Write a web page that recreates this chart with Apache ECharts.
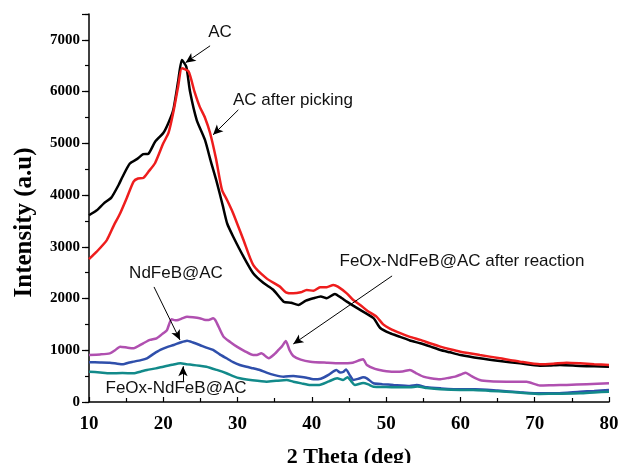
<!DOCTYPE html>
<html>
<head>
<meta charset="utf-8">
<script src="https://cdn.jsdelivr.net/npm/echarts@6/dist/echarts.min.js"></script>
<style>
  html, body { margin: 0; padding: 0; background: #fff; }
  #main { width: 619px; height: 463px; }
</style>
</head>
<body>
<div id="main"></div>
<script>
// 2 theta (deg), intensity (a.u)
var acData = [[10,3610],[11,3700],[12,3840],[13,3950],[14,4200],[14.5,4350],[15.5,4610],[16.5,4700],[17.3,4790],[18,4800],[18.9,5030],[20,5200],[20.7,5400],[21.35,5650],[22,6200],[22.5,6610],[23.1,6480],[23.6,6000],[24.5,5450],[25.6,5070],[26.4,4650],[27.2,4250],[28,3800],[28.6,3450],[29.4,3200],[30.8,2810],[32.1,2490],[33.5,2300],[34.8,2170],[36.2,1940],[37.2,1920],[38.2,1876],[39.2,1960],[40.2,2005],[41.2,2040],[42,2005],[43.1,2090],[44,2010],[44.7,1940],[46.5,1780],[48.3,1620],[49.2,1430],[50.5,1330],[51.9,1260],[53.2,1190],[54.6,1135],[56,1070],[57.3,1006],[58.6,960],[60,909],[62.6,845],[65.3,793],[68,748],[70.7,702],[72,705],[73.4,716],[76.1,696],[78,690],[80,683]];
var acPickData = [[10,2760],[11,2900],[12.4,3130],[13.3,3400],[14.2,3650],[15.1,3950],[16,4260],[16.6,4320],[17.3,4330],[18,4450],[18.9,4620],[20,5000],[20.7,5200],[21.35,5600],[22,6100],[22.5,6450],[23.4,6390],[24.2,6000],[24.9,5710],[25.6,5500],[26.3,5200],[27.1,4700],[27.9,4100],[28.6,3900],[29.4,3650],[30.8,3130],[32.1,2650],[33.9,2390],[35.7,2230],[36.5,2120],[37.5,2100],[38.5,2120],[39.3,2166],[40.2,2150],[41.1,2218],[42,2220],[42.9,2263],[43.5,2230],[44.7,2100],[45.5,1980],[46.5,1876],[47.5,1760],[48.7,1650],[49.6,1500],[50.5,1420],[51.9,1330],[53.2,1260],[54.6,1200],[56,1130],[57.3,1070],[58.6,1020],[60,973],[62.6,909],[65.3,845],[68,780],[70.7,729],[72.5,740],[74.3,760],[76.1,748],[78,730],[80,716]];
var reactedData = [[10,910],[11.5,920],[12.8,940],[13.5,1000],[14.2,1070],[15.2,1050],[16,1040],[17.3,1135],[18.2,1200],[19.1,1232],[20,1330],[20.5,1390],[21.1,1600],[21.6,1580],[22,1586],[22.6,1620],[23.2,1650],[24,1640],[24.9,1620],[25.5,1590],[26.1,1586],[26.7,1620],[27.1,1560],[28.1,1263],[29,1160],[29.9,1070],[31,980],[32.1,909],[32.6,910],[33.2,941],[34.2,845],[35,930],[35.5,1006],[36,1080],[36.5,1180],[37,1000],[37.5,890],[38.5,820],[39.8,780],[42,760],[43.8,748],[45.5,760],[46.5,812],[46.9,826],[47.4,716],[48.5,640],[49.6,606],[51,586],[52.2,590],[53.2,619],[54,560],[55,490],[56,460],[57.3,440],[58.5,470],[59.3,490],[60.2,540],[60.7,567],[61.5,500],[62.6,425],[64,400],[66.2,393],[68.9,393],[70.7,320],[72.5,325],[74.3,329],[77,345],[80,362]];
var ndfebData = [[10,768],[11.5,765],[12.8,760],[13.8,740],[14.6,729],[15.3,760],[16,780],[17,810],[17.8,845],[18.7,930],[19.6,1006],[20.5,1060],[21.4,1102],[22.3,1150],[23.2,1186],[24,1150],[24.9,1102],[25.8,1050],[26.7,1006],[27.6,920],[28.5,845],[29.4,770],[30.3,716],[31.2,680],[32.1,651],[33,619],[33.9,567],[35,520],[36.2,490],[37.5,503],[38.4,490],[39.3,470],[40.2,438],[41.2,450],[42.3,530],[43.3,620],[43.8,570],[44.2,580],[44.6,630],[45.1,520],[45.6,425],[46.3,450],[46.9,477],[47.4,458],[48.3,362],[49.5,345],[51,329],[53.2,309],[54.1,329],[55.5,284],[57.3,264],[60,245],[62,245],[65,220],[68,190],[70.7,168],[73,170],[76.1,200],[78,215],[80,232]];
var feoxData = [[10,587],[11.5,570],[12.8,555],[14.5,560],[16,555],[17,590],[17.8,619],[19,650],[20,683],[21.2,720],[22.3,748],[23.2,730],[24,716],[24.9,700],[25.8,683],[27.2,620],[28.5,555],[29.4,500],[30.3,458],[32,420],[33.9,393],[35.2,410],[36.6,425],[37.5,393],[38.6,360],[39.8,329],[41,330],[42.3,400],[43.4,458],[44.2,425],[44.8,477],[45.3,400],[45.8,329],[46.9,367],[47.6,340],[48.3,296],[50,290],[51.5,285],[53.2,284],[54.2,300],[55.5,270],[57.3,245],[60,232],[61.7,232],[64,215],[66.2,200],[68.5,175],[70.7,155],[73,160],[76.1,168],[78,185],[80,200]];

// arrows: [from, to] in data coordinates
var arrowList = [
    [[26.3,6885],[23.0,6560]],
    [[30.1,5647],[26.7,5164]],
    [[18.75,2224],[22.25,1199]],
    [[22.65,387],[22.65,690]],
    [[50.8,2437],[37.5,1122]]
];

var myChart = echarts.init(document.getElementById('main'));

var serif = '"Liberation Serif", "Times New Roman", serif';
var sans = '"Liberation Sans", Arial, sans-serif';

function make_line(name, data, color) {
    return {
        name: name,
        type: 'line',
        data: data,
        showSymbol: false,
        smooth: 0.2,
        lineStyle: { color: color, width: 2.5 },
        z: 3
    };
}

var seriesList = [
    make_line('AC', acData, '#000000'),
    make_line('AC after picking', acPickData, '#ee1d1d'),
    make_line('FeOx-NdFeB@AC after reaction', reactedData, '#b050b0'),
    make_line('NdFeB@AC', ndfebData, '#2f4fab'),
    make_line('FeOx-NdFeB@AC', feoxData, '#128a8a')
];
seriesList[0].markLine = {
    silent: true,
    symbol: ['none', 'arrow'],
    symbolSize: [7, 10],
    label: { show: false },
    lineStyle: { color: '#000', width: 1, type: 'solid' },
    data: arrowList.map(function (a) {
        return [{ coord: a[0] }, { coord: a[1] }];
    })
};

function note(text, x, y, align) {
    return {
        type: 'text',
        x: x, y: y,
        style: {
            text: text,
            font: '17px ' + sans,
            fill: '#111',
            textAlign: align || 'center',
            textVerticalAlign: 'middle'
        },
        z: 10
    };
}

var option = {
    animation: false,
    grid: { left: 89, right: 10, top: 14, bottom: 61, containLabel: false, outerBoundsMode: 'none' },
    xAxis: {
        type: 'value',
        min: 10, max: 80, interval: 10,
        name: '2 Theta (deg)',
        nameLocation: 'middle',
        nameGap: 44,
        nameTextStyle: { fontFamily: serif, fontWeight: 'bold', fontSize: 22, color: '#000' },
        axisLine: { lineStyle: { color: '#000', width: 1.5 } },
        axisTick: { inside: true, length: 5, lineStyle: { color: '#000', width: 1.2 } },
        minorTick: { show: true, splitNumber: 2, length: 4, lineStyle: { color: '#000', width: 1.2 } },
        axisLabel: { fontFamily: serif, fontWeight: 'bold', fontSize: 19, color: '#000', margin: 13 },
        splitLine: { show: false }
    },
    yAxis: [{
        type: 'value',
        min: 0, max: 7500, interval: 500,
        name: 'Intensity (a.u)',
        nameLocation: 'middle',
        nameGap: 52,
        nameTextStyle: { fontFamily: serif, fontWeight: 'bold', fontSize: 25, color: '#000', padding: [0, 29, 0, 0] },
        axisLine: { show: true, lineStyle: { color: '#000', width: 1.5 } },
        axisTick: { length: 4, lineStyle: { color: '#000', width: 1.2 } },
        axisLabel: {
            fontFamily: serif, fontWeight: 'bold', fontSize: 15, color: '#000', margin: 9,
            formatter: function (v) { return (v % 1000 === 0 && v <= 7000) ? String(v) : ''; }
        },
        splitLine: { show: false }
    }, {
        // longer ticks at every 1000
        type: 'value',
        position: 'left',
        min: 0, max: 7500, interval: 1000,
        axisLine: { show: false },
        axisTick: { length: 7, lineStyle: { color: '#000', width: 1.2 } },
        axisLabel: { show: false },
        splitLine: { show: false }
    }],
    graphic: [
        note('AC', 220, 32),
        note('AC after picking', 233, 100, 'left'),
        note('NdFeB@AC', 176, 273),
        note('FeOx-NdFeB@AC', 176, 388),
        note('FeOx-NdFeB@AC after reaction', 462, 261)
    ],
    series: seriesList
};
myChart.setOption(option);
</script>
</body>
</html>
